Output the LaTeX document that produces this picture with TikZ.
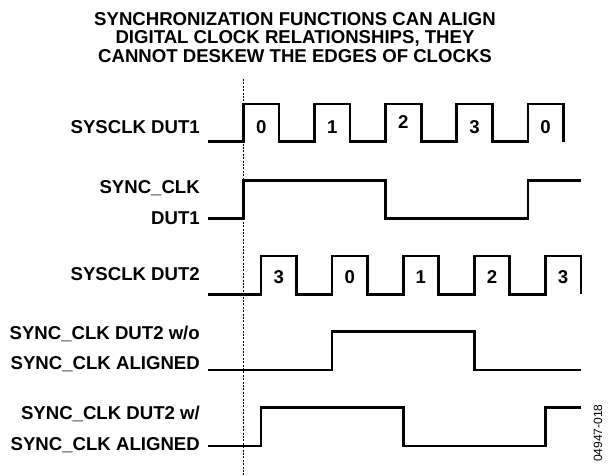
\documentclass[tikz,border=0pt]{standalone}
\usepackage{fontspec}
\setmainfont{Liberation Sans}
\usetikzlibrary{positioning}

\begin{document}
\begin{tikzpicture}[
  x=1pt,
  y=-1pt,
  every node/.style={font=\fontsize{18.6}{18.2}\selectfont\bfseries, inner sep=0pt},
  wave/.style={line width=2.7pt, line join=miter},
  siglab/.style={anchor=base east},
  titleline/.style={anchor=base},
  guide/.style={line width=1pt, dash pattern=on 2pt off 1.4pt},
]
\useasboundingbox (0,0) rectangle (611,475);

% Geometry.
\def\xstart{207.7}
\def\xend{581}
\def\per{71.1}
\def\half{35.5}

% Helper macro: first rising edge, low level, high level.
\newcommand{\clkwave}[3]{%
  \draw[wave] (\xstart,#2) foreach \k in {0,...,4} {
    -- ({#1+\per*\k},#2) -- ({#1+\per*\k},#3)
    -- ({#1+\per*\k+\half},#3) -- ({#1+\per*\k+\half},#2)};
}

% Title.
\node[titleline] (title1) at (295,25.7) {SYNCHRONIZATION FUNCTIONS CAN ALIGN};
\node[titleline] (title2) at (295,43.9) {DIGITAL CLOCK RELATIONSHIPS, THEY};
\node[titleline] (title3) at (295,62.1) {CANNOT DESKEW THE EDGES OF CLOCKS};

% Reference edge.
\draw[guide] (243.5,79) -- (243.5,475);

% Signal names.
\node[siglab] (labsys1) at (200,133) {SYSCLK DUT1};
\node[siglab] (labsync1a) at (200,193.3) {SYNC\_CLK};
\node[siglab] (labsync1b) at (200,224.3) {DUT1};
\node[siglab] (labsys2) at (200,280.3) {SYSCLK DUT2};
\node[siglab] (labwoa) at (200,339) {SYNC\_CLK DUT2 w/o};
\node[siglab] (labwob) at (200,369) {SYNC\_CLK ALIGNED};
\node[siglab] (labwa) at (200,419.6) {SYNC\_CLK DUT2 w/};
\node[siglab] (labwb) at (200,450.6) {SYNC\_CLK ALIGNED};

% SYSCLK DUT1.
\clkwave{243.5}{141.7}{104}
\node (d1c0) at (261.2,127) {0};
\node (d1c1) at (332.3,127) {1};
\node (d1c2) at (403.4,122) {2};
\node (d1c3) at (474.5,127) {3};
\node (d1c4) at (545.6,127) {0};

% SYNC_CLK DUT1.
\draw[wave] (\xstart,218.3) -- (243.5,218.3) -- (243.5,180.7) -- (385.7,180.7)
  -- (385.7,218.3) -- (527.9,218.3) -- (527.9,180.7) -- (\xend,180.7);

% SYSCLK DUT2.
\clkwave{261}{294.3}{256}
\node (d2c0) at (278.7,277) {3};
\node (d2c1) at (349.8,277) {0};
\node (d2c2) at (420.9,277) {1};
\node (d2c3) at (492,277) {2};
\node (d2c4) at (563.1,277) {3};

% SYNC_CLK DUT2 without alignment.
\draw[wave] (\xstart,370) -- (332.1,370) -- (332.1,331.7) -- (474.3,331.7)
  -- (474.3,370) -- (\xend,370);

% SYNC_CLK DUT2 with alignment.
\draw[wave] (\xstart,446) -- (261,446) -- (261,407.7) -- (403.2,407.7)
  -- (403.2,446) -- (545.4,446) -- (545.4,407.7) -- (\xend,407.7);

% Figure number.
\node[font=\fontsize{12}{14}\selectfont, rotate=90] (figid) at (598,433) {04947-018};

\end{tikzpicture}
\end{document}
